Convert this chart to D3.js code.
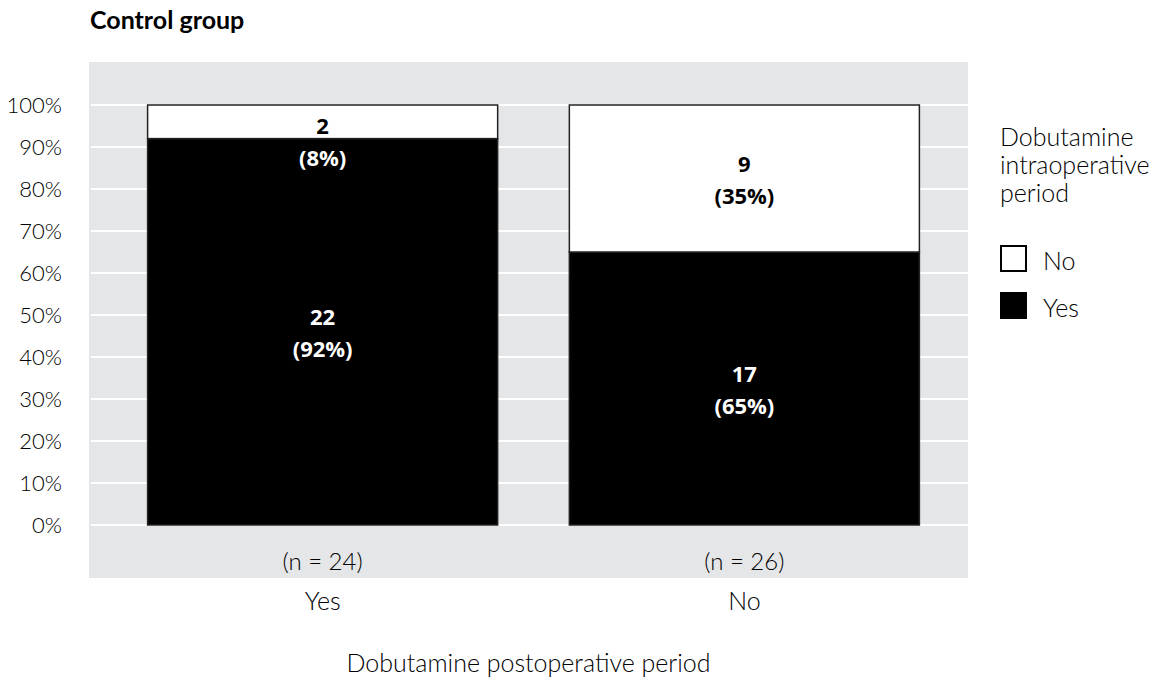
<!DOCTYPE html>
<html>
<head>
<meta charset="utf-8">
<script src="https://cdn.jsdelivr.net/npm/d3@7/dist/d3.min.js"></script>
<style>
  body { margin: 0; background: #fff; }
  svg { display: block; font-family: Lato, "Open Sans", sans-serif; }
</style>
</head>
<body>
<svg id="chart" width="1166" height="682"></svg>
<script>
// ---- data ----
const categories = ["Yes", "No"];               // Dobutamine postoperative period
const totals = [24, 26];
const countYes = [22, 17];                       // intraoperative Yes (black)
const countNo = [2, 9];                          // intraoperative No (white)
const pctYes = [92, 65];
const pctNo = [8, 35];
const yTicks = [0, 10, 20, 30, 40, 50, 60, 70, 80, 90, 100];
const legendItems = ["No", "Yes"];
const legendFills = ["#ffffff", "#000000"];

// ---- layout ----
const svg = d3.select("#chart");
const panel = { x0: 89, x1: 968, y0: 62, y1: 578 };

const x = d3.scaleBand().domain(categories).range([97, 970])
  .paddingInner(0.17).paddingOuter(0.12);
const y = d3.scaleLinear().domain([0, 100]).range([525, 105]);

// title
svg.append("text").attr("x", 90).attr("y", 29)
  .attr("font-size", 25).attr("font-weight", 700).attr("fill", "#000")
  .text("Control group");

// panel
svg.append("rect").attr("x", panel.x0).attr("y", panel.y0)
  .attr("width", panel.x1 - panel.x0).attr("height", panel.y1 - panel.y0)
  .attr("fill", "#e5e6e8");

// gridlines
svg.append("g").selectAll("line").data(yTicks).join("line")
  .attr("x1", panel.x0 + 2).attr("x2", panel.x1)
  .attr("y1", d => y(d)).attr("y2", d => y(d))
  .attr("stroke", "#ffffff").attr("stroke-width", 2);

// y axis
const yAxis = svg.append("g").attr("transform", `translate(${panel.x0},0)`)
  .call(d3.axisLeft(y).tickValues(yTicks).tickFormat(d => d + "%").tickSize(0).tickPadding(27));
yAxis.select(".domain").remove();
yAxis.selectAll("text").attr("font-size", 22).attr("font-family", "Lato, sans-serif")
  .attr("font-weight", 300).attr("fill", "#000");

// bars
const rows = categories.map((c, i) => ({ c, i }));
const g = svg.append("g");
rows.forEach(r => {
  const segs = [
    { lo: 0, hi: pctYes[r.i], fill: "#000", n: countYes[r.i], p: pctYes[r.i] },
    { lo: pctYes[r.i], hi: 100, fill: "#fff", n: countNo[r.i], p: pctNo[r.i] }
  ];
  segs.forEach(s => {
    g.append("rect")
      .attr("x", x(r.c)).attr("width", x.bandwidth())
      .attr("y", y(s.hi)).attr("height", y(s.lo) - y(s.hi))
      .attr("fill", s.fill).attr("stroke", "#222").attr("stroke-width", 1.5);
  });
  segs.forEach(s => {
    const top = y(s.hi), bot = y(s.lo), mid = (top + bot) / 2;
    const small = bot - top < 50;
    const l1 = small ? mid + 3 : mid - 16;
    const l2 = l1 + 32;
    const blackTop = y(pctYes[r.i]);
    [[String(s.n), l1], ["(" + s.p + "%)", l2]].forEach(([t, yy]) => {
      const inBlack = yy > blackTop;
      g.append("text")
        .attr("x", x(r.c) + x.bandwidth() / 2).attr("y", yy)
        .attr("text-anchor", "middle").attr("dominant-baseline", "central")
        .attr("font-family", "'Open Sans', sans-serif")
        .attr("font-size", 22).attr("font-weight", 700)
        .attr("fill", inBlack ? "#fff" : "#000")
        .text(t);
    });
  });
});

// n labels inside panel
svg.append("g").selectAll("text").data(rows).join("text")
  .attr("x", d => x(d.c) + x.bandwidth() / 2).attr("y", 560)
  .attr("text-anchor", "middle").attr("dominant-baseline", "central")
  .attr("font-size", 24).attr("font-weight", 300).attr("fill", "#000")
  .text(d => "(n = " + totals[d.i] + ")");

// x axis
const xAxis = svg.append("g").attr("transform", `translate(0,${panel.y1})`)
  .call(d3.axisBottom(x).tickSize(0).tickPadding(14));
xAxis.select(".domain").remove();
xAxis.selectAll("text").attr("font-size", 25).attr("font-family", "Lato, sans-serif")
  .attr("font-weight", 300).attr("fill", "#000");

svg.append("text").attr("x", (panel.x0 + panel.x1) / 2).attr("y", 672)
  .attr("text-anchor", "middle")
  .attr("font-size", 25).attr("font-weight", 300).attr("fill", "#000")
  .text("Dobutamine postoperative period");

// legend
const leg = svg.append("g").attr("transform", "translate(1000,0)");
["Dobutamine", "intraoperative", "period"].forEach((t, i) => {
  leg.append("text").attr("x", 0).attr("y", 146 + i * 28)
    .attr("font-size", 25).attr("font-weight", 300).attr("fill", "#000").text(t);
});
leg.selectAll("rect.key").data(legendItems).join("rect")
  .attr("class", "key")
  .attr("x", 1).attr("y", (d, i) => 246 + i * 47)
  .attr("width", 25).attr("height", 25)
  .attr("fill", (d, i) => legendFills[i]).attr("stroke", "#000").attr("stroke-width", 2);
leg.selectAll("text.lab").data(legendItems).join("text")
  .attr("class", "lab")
  .attr("x", 43).attr("y", (d, i) => 270 + i * 47)
  .attr("font-size", 25).attr("font-weight", 300).attr("fill", "#000")
  .text(d => d);
</script>
</body>
</html>
